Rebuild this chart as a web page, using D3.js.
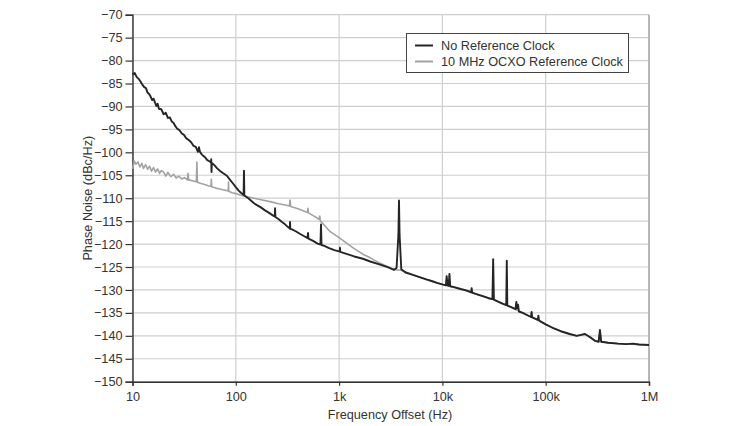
<!DOCTYPE html>
<html><head><meta charset="utf-8">
<script src="https://cdn.jsdelivr.net/npm/d3@7"></script>
<style>body{margin:0;background:#fff}svg{display:block}</style>
</head><body>
<svg id="c" width="734" height="426"></svg>
<script>
// ---- data ----
const yTicks = [-70,-75,-80,-85,-90,-95,-100,-105,-110,-115,-120,-125,-130,-135,-140,-145,-150];
const xTicks = [10,100,1000,10000,100000,1000000];
const xTickLabels = ["10","100","1k","10k","100k","1M"];
const seriesNames = ["No Reference Clock","10 MHz OCXO Reference Clock"];

// [frequency offset (Hz), phase noise (dBc/Hz)]
const noRefClock = [
  [10,-83.0],[10.5,-82.7],[11,-83.6],[11.5,-84.0],[12,-84.6],[12.5,-85.3],[13,-85.8],[13.5,-86.0],
  [14,-87.0],[14.5,-87.3],[15,-87.9],[15.5,-88.6],[16,-88.3],[17,-89.9],[17.5,-89.4],[18,-90.5],
  [19,-90.6],[20,-91.7],[21,-91.4],[22,-92.5],[23,-92.4],[24,-93.3],[25,-93.6],[26,-94.3],
  [27,-94.8],[28.5,-95.2],[30,-95.9],[31.5,-96.2],[33,-96.9],[35,-97.3],[37,-97.8],[39,-98.6],
  [41,-98.8],[43,-99.9],[44,-98.9],[45,-99.9],[47,-100.5],[50,-101.0],[53,-101.7],[56,-102.0],
  [57.5,-102.2],[57.8,-101.5],[58.2,-104.3],[58.6,-102.3],[62,-102.8],[66,-103.5],[70,-104.0],
  [75,-104.5],[82,-105.1],[88,-106.0],[94,-106.8],[100,-107.6],[106,-108.3],[112,-108.8],
  [118,-109.2],[119,-109.3],[120,-104.0],[121,-109.4],[126,-109.7],[132,-110.0],[140,-110.5],
  [150,-111.1],[160,-111.5],[175,-112.0],[190,-112.6],[210,-113.2],[230,-113.8],[238,-114.0],
  [240,-112.2],[242,-114.1],[260,-114.6],[280,-115.2],[300,-115.7],[320,-116.3],[333,-116.6],
  [335,-115.2],[337,-116.7],[350,-116.8],[380,-117.2],[420,-117.8],[460,-118.3],[495,-118.7],
  [500,-117.6],[505,-118.8],[560,-119.3],[620,-119.9],[660,-120.1],[668,-115.7],[676,-120.2],
  [720,-120.4],[800,-120.9],[900,-121.3],[1000,-121.6],[1015,-121.6],[1020,-120.8],[1025,-121.7],
  [1200,-122.2],[1400,-122.7],[1700,-123.2],[2000,-123.8],[2500,-124.5],[3000,-125.1],
  [3400,-125.6],[3600,-125.2],[3750,-118.0],[3800,-110.5],[3850,-118.0],[4000,-125.5],
  [4400,-126.2],[5000,-126.6],[6000,-127.2],[7000,-127.7],[8000,-128.1],[9000,-128.5],
  [10000,-128.8],[10800,-129.0],[11000,-127.0],[11200,-129.0],[11500,-129.1],[11700,-126.5],
  [11900,-129.2],[13000,-129.4],[15000,-129.8],[17000,-130.1],[19000,-130.5],[19200,-129.6],
  [19400,-130.6],[22000,-131.0],[25000,-131.4],[28000,-131.8],[30500,-132.0],[31000,-123.3],
  [31500,-132.1],[35000,-132.6],[38000,-133.0],[41500,-133.3],[42000,-123.6],[42500,-133.4],
  [48000,-133.9],[51000,-134.2],[52000,-132.6],[53000,-134.0],[54000,-133.2],[55000,-134.7],
  [60000,-135.0],[65000,-135.4],[72000,-135.9],[73000,-134.8],[74000,-136.0],[80000,-136.3],
  [84000,-136.5],[85000,-135.6],[86000,-136.6],[90000,-136.9],[100000,-137.5],[120000,-138.4],
  [140000,-139.0],[170000,-139.6],[200000,-140.0],[220000,-139.8],[240000,-139.6],
  [270000,-140.3],[300000,-141.1],[325000,-141.3],[335000,-138.7],[345000,-141.3],
  [400000,-141.5],[500000,-141.7],[600000,-141.8],[700000,-141.7],[800000,-141.9],[1000000,-142.0]
];
const ocxoRefClock = [
  [10,-103.6],[10.4,-101.9],[10.8,-102.6],[11.3,-102.1],[11.8,-103.2],[12.3,-102.4],
  [12.8,-103.5],[13.4,-102.7],[14,-103.7],[14.6,-103.0],[15.3,-104.1],[16,-103.3],
  [16.7,-104.3],[17.5,-103.6],[18.3,-104.6],[19,-104.0],[20,-104.3],[21,-105.2],[22,-104.4],
  [23.5,-105.3],[25,-104.8],[26.5,-105.6],[28,-105.2],[30,-105.8],[32,-105.5],[34,-106.0],
  [34.5,-104.6],[35,-106.0],[38,-106.2],[41.5,-106.4],[42,-102.1],[42.5,-106.5],[46,-106.8],
  [50,-107.0],[54,-107.3],[57.5,-107.4],[58,-105.9],[58.5,-107.5],[64,-107.8],[70,-108.0],
  [77,-108.2],[84.5,-108.4],[85,-106.5],[85.5,-108.5],[92,-108.8],[100,-109.0],[110,-109.3],
  [120,-109.5],[130,-109.7],[150,-110.0],[180,-110.4],[220,-110.8],[260,-111.2],[300,-111.5],
  [330,-111.7],[335,-110.4],[340,-111.8],[400,-112.3],[495,-113.1],[500,-112.2],[505,-113.2],
  [560,-113.8],[640,-114.6],[650,-113.9],[660,-115.0],[720,-115.9],[820,-117.3],[1000,-118.6],
  [1200,-119.9],[1400,-121.0],[1700,-122.2],[2000,-123.0],[2500,-124.2],[3000,-125.0],
  [3400,-125.6],[4000,-125.7],[5000,-126.6],[7000,-127.7],[10000,-128.8],[15000,-129.8],
  [22000,-131.0],[30000,-132.0],[42000,-133.3],[60000,-135.0],[100000,-137.5],[140000,-139.0],
  [200000,-140.0],[240000,-139.6],[300000,-141.1],[330000,-141.3],[336000,-139.0],
  [342000,-141.3],[500000,-141.7],[1000000,-142.0]
];

// ---- layout ----
const svg = d3.select("#c");
const L = 132.5, R = 649, T = 14.7, B = 381.7;
const x = d3.scaleLog().domain([10, 1e6]).range([L, R]);
const y = d3.scaleLinear().domain([-150, -70]).range([B, T]);
const font = "'Liberation Sans', Arial, Helvetica, sans-serif";
const fs = "12.7px";

// grid
svg.append("g").selectAll("line").data(yTicks).join("line")
  .attr("x1", L).attr("x2", R).attr("y1", d => y(d)).attr("y2", d => y(d))
  .attr("stroke", "#cfcfcf").attr("stroke-width", 1.2);
svg.append("g").selectAll("line").data(xTicks).join("line")
  .attr("x1", d => x(d)).attr("x2", d => x(d)).attr("y1", T).attr("y2", B)
  .attr("stroke", "#cfcfcf").attr("stroke-width", 1.2);
svg.append("line").attr("x1", R).attr("x2", R).attr("y1", T).attr("y2", B)
  .attr("stroke", "#999").attr("stroke-width", 1.2);

// axes
const yAxis = d3.axisLeft(y).tickValues(yTicks).tickSize(7).tickPadding(3)
  .tickFormat(d => d3.format("")(d));
const gy = svg.append("g").attr("transform", `translate(${L},0)`).call(yAxis);
const xAxis = d3.axisBottom(x).tickValues(xTicks).tickSize(4).tickPadding(6)
  .tickFormat((d, i) => xTickLabels[i]);
const gx = svg.append("g").attr("transform", `translate(0,${B})`).call(xAxis);
[gx, gy].forEach(g => {
  g.select(".domain").attr("stroke", "#333").attr("stroke-width", 1.4);
  g.selectAll(".tick line").attr("stroke", "#333").attr("stroke-width", 1.2);
  g.selectAll(".tick text").attr("fill", "#333").style("font-family", font).style("font-size", fs);
});

// lines
const line = d3.line().x(d => x(d[0])).y(d => y(d[1]));
svg.append("path").datum(ocxoRefClock).attr("d", line)
  .attr("fill", "none").attr("stroke", "#a2a2a2").attr("stroke-width", 1.6).attr("stroke-linejoin", "round");
svg.append("path").datum(noRefClock).attr("d", line)
  .attr("fill", "none").attr("stroke", "#252525").attr("stroke-width", 1.9).attr("stroke-linejoin", "round");

// labels
svg.append("text").attr("x", 390).attr("y", 419).attr("text-anchor", "middle")
  .attr("fill", "#333").style("font-family", font).style("font-size", fs).text("Frequency Offset (Hz)");
svg.append("text").attr("transform", `translate(92,${(T + B) / 2}) rotate(-90)`).attr("text-anchor", "middle")
  .attr("fill", "#333").style("font-family", font).style("font-size", fs).text("Phase Noise (dBc/Hz)");

// legend
const lg = svg.append("g");
lg.append("rect").attr("x", 406.5).attr("y", 33.5).attr("width", 222).attr("height", 39)
  .attr("fill", "#fff").attr("stroke", "#444").attr("stroke-width", 1);
const colors = ["#252525", "#a2a2a2"];
seriesNames.forEach((n, i) => {
  const yy = 45.5 + i * 16;
  lg.append("line").attr("x1", 415).attr("x2", 433).attr("y1", yy).attr("y2", yy)
    .attr("stroke", colors[i]).attr("stroke-width", 2);
  lg.append("text").attr("x", 441).attr("y", yy + 4.4).attr("fill", "#333")
    .style("font-family", font).style("font-size", fs).text(n);
});
</script>
</body></html>
